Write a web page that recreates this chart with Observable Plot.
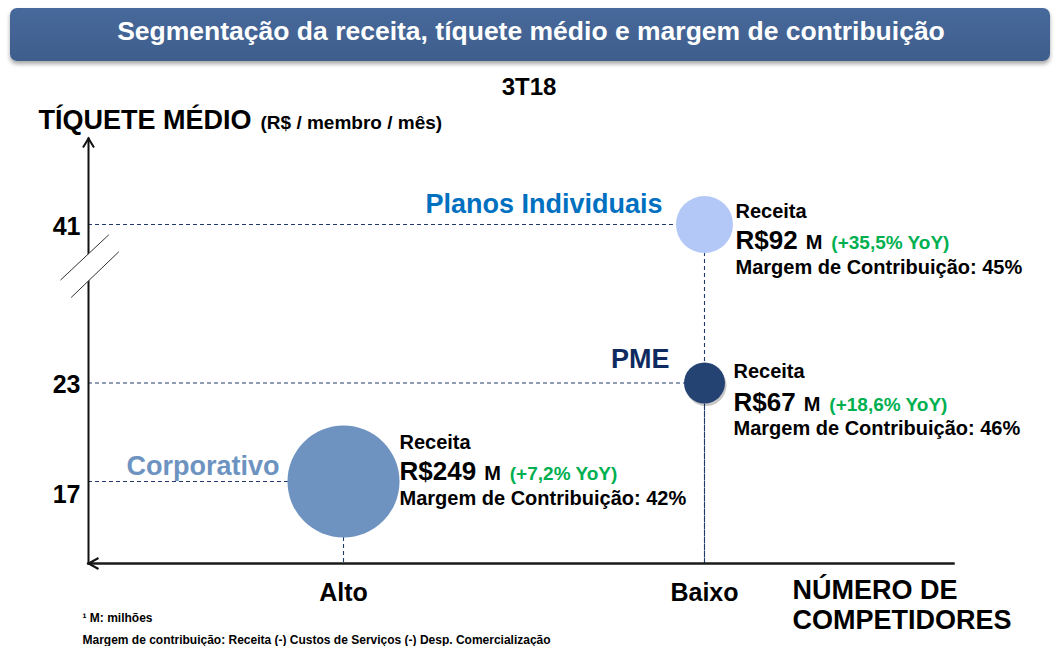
<!DOCTYPE html>
<html>
<head>
<meta charset="utf-8">
<script src="https://cdn.jsdelivr.net/npm/d3@7"></script>
<script src="https://cdn.jsdelivr.net/npm/@observablehq/plot@0.6"></script>
<style>
  html, body { margin: 0; padding: 0; background: #ffffff; }
  body { width: 1058px; height: 646px; overflow: hidden; font-family: "Liberation Sans", Arial, sans-serif; }
  #hdr {
    margin: 8px 0 0 10px; width: 1040px; height: 53px;
    background: linear-gradient(#47699b, #3e5e8c);
    border-radius: 7px; box-shadow: 0 3px 4px rgba(0,0,0,0.35);
    color: #fff; font-weight: bold; font-size: 26.5px; line-height: 47px;
    text-align: center; box-sizing: border-box; padding-left: 2px;
  }
  #sub { height: 39px; box-sizing: border-box; padding-top: 12px; line-height: 27px;
    text-align: center; font-weight: bold; font-size: 24px; color: #000; }
  #chart svg { display: block; }
</style>
</head>
<body>
<div id="hdr">Segmentação da receita, tíquete médio e margem de contribuição</div>
<div id="sub">3T18</div>
<div id="chart"></div>
<script>
// ---- data ----
const segments = ["Planos Individuais", "PME", "Corporativo"];
const competition = ["Baixo", "Baixo", "Alto"];          // número de competidores
const ticket = [41, 23, 17];                             // tíquete médio R$/membro/mês
const revenue = [92, 67, 249];                           // receita R$ M
const yoy = [35.5, 18.6, 7.2];                           // % YoY
const margin = [45, 46, 42];                             // margem de contribuição %
const yTicks = [17, 23, 41];
const xCategories = ["Alto", "Baixo"];
const yMin = 12;
const axisBreak = 36.2;
const yLabel = "TÍQUETE MÉDIO";
const yUnit = "(R$ / membro / mês)";
const xLabel = "NÚMERO DE\nCOMPETIDORES";
const footnotes = ["¹ M: milhões", "Margem de contribuição: Receita (-) Custos de Serviços (-) Desp. Comercialização"];

const data = segments.map((s, i) => ({
  segment: s, competition: competition[i], ticket: ticket[i],
  revenue: revenue[i], yoy: yoy[i], margin: margin[i]
}));

// ---- styling / layout ----
const font = "'Liberation Sans', Arial, sans-serif";
const bubbleColors = ["#b4c8f8", "#244272", "#6f93c1"];
const dash = "#22396b";
const layout = {
  "Planos Individuais": {nameDx: -42, nameDy: -20, color: "#0070c0", infoDx: 31, rDy: -12.5, vDy: 15.8, mDy: 43.3},
  "PME":                {nameDx: -35, nameDy: -24, color: "#0e2a60", infoDx: 29, rDy: -11.5, vDy: 19.5, mDy: 46},
  "Corporativo":        {nameDx: -64, nameDy: -15, color: "#6d93c1", infoDx: 56, rDy: -39,   vDy: -10,  mDy: 17}
};
const fmt = v => String(v).replace(".", ",");

const chevronUp = {draw(c) { c.moveTo(-5.5, 9); c.lineTo(0, 0); c.lineTo(5.5, 9); }};
const chevronLeft = {draw(c) { c.moveTo(10, -5.5); c.lineTo(0, 0); c.lineTo(10, 5.5); }};
const breakFill = {draw(c) { c.moveTo(-28, 13.3); c.lineTo(20.3, -32); c.lineTo(30.3, -15); c.lineTo(-17.3, 30.7); c.closePath(); }};
const breakLines = {draw(c) { c.moveTo(-28, 13.3); c.lineTo(20.3, -32); c.moveTo(-17.3, 30.7); c.lineTo(30.3, -15); }};

const segMarks = segments.flatMap(s => {
  const L = layout[s];
  const f = d => d.segment === s;
  const base = {filter: f, x: "competition", y: "ticket", fontWeight: "bold", fontFamily: font, lineAnchor: "middle"};
  return [
    Plot.text(data, {...base, text: "segment", textAnchor: "end", dx: L.nameDx, dy: L.nameDy, fontSize: 27, fill: L.color}),
    Plot.text(data, {...base, text: () => "Receita", textAnchor: "start", dx: L.infoDx, dy: L.rDy, fontSize: 20, fill: "#000"}),
    Plot.text(data, {...base, text: d => `R$${d.revenue} M (+${fmt(d.yoy)}% YoY)`, textAnchor: "start", dx: L.infoDx, dy: L.vDy, fontSize: 26, fill: "#000"}),
    Plot.text(data, {...base, text: d => `Margem de Contribuição: ${d.margin}%`, textAnchor: "start", dx: L.infoDx, dy: L.mDy, fontSize: 20, fill: "#000"})
  ];
});

// horizontal guide from the y axis (frame left) to each bubble
const hGuideOpts = {y: "ticket", x2: "competition", stroke: dash, strokeWidth: 1.1, strokeDasharray: "4,3"};
const hGuide = Plot.RuleY ? new Plot.RuleY(data, hGuideOpts) : Plot.ruleY(data, hGuideOpts);

const chart = Plot.plot({
  width: 1058, height: 546,
  marginLeft: 88, marginRight: 105, marginTop: 38, marginBottom: 83,
  style: {fontFamily: font, background: "transparent", overflow: "visible", color: "#000"},
  x: {type: "point", domain: xCategories, range: [343, 704], padding: 0, axis: null},
  y: {type: "linear", domain: [yMin, 17, 23, 41, 46.2], range: [463, 381, 282.5, 124, 38], axis: null},
  r: {type: "linear", domain: [67, 92, 249], range: [20.5, 28.5, 56]},
  color: {domain: segments, range: bubbleColors},
  marks: [
    // guide lines
    hGuide,
    Plot.ruleX(data, {x: "competition", y1: "ticket", y2: () => yMin, stroke: dash, strokeWidth: 1.1, strokeDasharray: "4,3"}),
    // axes
    Plot.frame({anchor: "left", stroke: "#111", strokeWidth: 2}),
    Plot.frame({anchor: "bottom", stroke: "#1a1a1a", strokeWidth: 2.5}),
    Plot.dot([axisBreak], {y: d => d, frameAnchor: "left", symbol: breakFill, fill: "#fff", stroke: "none"}),
    Plot.dot([axisBreak], {y: d => d, frameAnchor: "left", symbol: breakLines, fill: "none", stroke: "#333", strokeWidth: 1}),
    Plot.dot([0], {frameAnchor: "top-left", symbol: chevronUp, fill: "none", stroke: "#111", strokeWidth: 2}),
    Plot.dot([0], {frameAnchor: "bottom-left", symbol: chevronLeft, fill: "none", stroke: "#111", strokeWidth: 2}),
    // tick labels
    Plot.text(yTicks.filter(t => t !== 17), {y: d => d, frameAnchor: "left", textAnchor: "end", lineAnchor: "middle", dx: -8, dy: 2, fontSize: 25, fontWeight: "bold"}),
    Plot.text(yTicks.filter(t => t === 17), {y: d => d, frameAnchor: "left", textAnchor: "end", lineAnchor: "middle", dx: -8, dy: 13, fontSize: 25, fontWeight: "bold"}),
    Plot.text(xCategories, {x: d => d, frameAnchor: "bottom", lineAnchor: "middle", dy: 29, fontSize: 25, fontWeight: "bold"}),
    // axis titles
    Plot.text([yLabel], {frameAnchor: "top-left", textAnchor: "start", lineAnchor: "middle", dx: -50, dy: -18, fontSize: 27, fontWeight: "bold"}),
    Plot.text([yUnit], {frameAnchor: "top-left", textAnchor: "start", lineAnchor: "middle", dx: 172, dy: -15.5, fontSize: 19, fontWeight: "bold"}),
    Plot.text([xLabel], {frameAnchor: "bottom-right", textAnchor: "start", lineAnchor: "top", dx: -161, dy: 14, lineHeight: 1.11, fontSize: 27, fontWeight: "bold"}),
    // bubbles
    Plot.dot(data, {filter: d => d.segment === "PME", x: "competition", y: "ticket", r: "revenue", fill: "#000", fillOpacity: 0.22, dx: 1.5, dy: 2.5}),
    Plot.dot(data, {x: "competition", y: "ticket", r: "revenue", fill: "segment"}),
    ...segMarks,
    // footnotes
    Plot.text([footnotes[0]], {frameAnchor: "bottom-left", textAnchor: "start", lineAnchor: "middle", dx: -6, dy: 54.6, fontSize: 12, fontWeight: "bold"}),
    Plot.text([footnotes[1]], {frameAnchor: "bottom-left", textAnchor: "start", lineAnchor: "middle", dx: -6, dy: 76.5, fontSize: 12, fontWeight: "bold"})
  ]
});

// mixed-size revenue line: "R$92" big, "M" and "(+x% YoY)" smaller, YoY green
const NS = "http://www.w3.org/2000/svg";
chart.querySelectorAll("text").forEach(t => {
  if (t.querySelector("tspan")) return;
  const m = /^(R\$\d+) (M) (\(.*YoY\))$/.exec(t.textContent);
  if (!m) return;
  t.textContent = "";
  const parts = [
    {s: m[1]},
    {s: m[2], size: 20, dx: 8},
    {s: m[3], size: 19, dx: 9, fill: "#00b050"}
  ];
  for (const p of parts) {
    const ts = document.createElementNS(NS, "tspan");
    ts.textContent = p.s;
    if (p.size) ts.setAttribute("font-size", p.size);
    if (p.dx) ts.setAttribute("dx", p.dx);
    if (p.fill) ts.setAttribute("fill", p.fill);
    t.appendChild(ts);
  }
});

document.getElementById("chart").appendChild(chart);
</script>
</body>
</html>
